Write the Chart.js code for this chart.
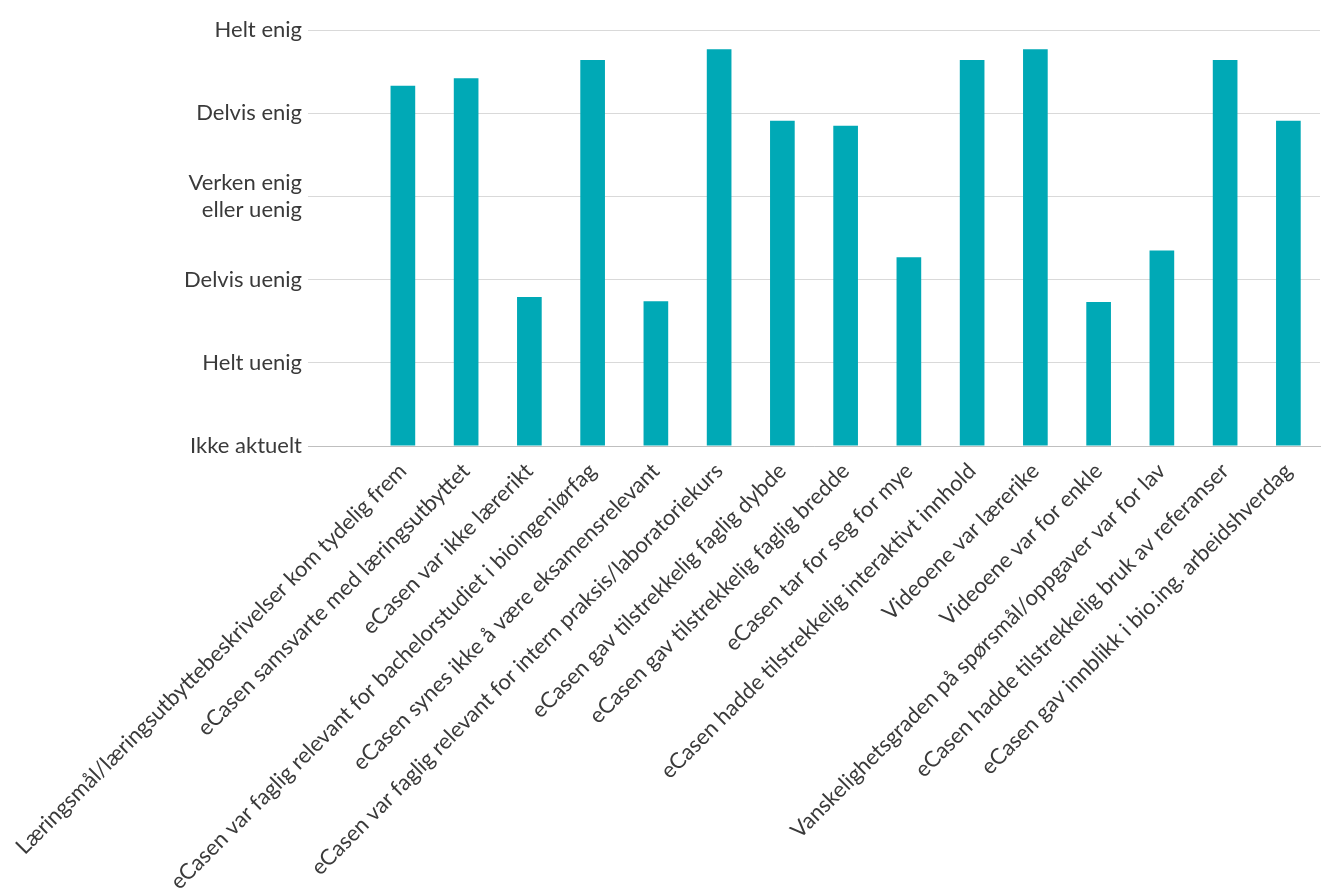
<!DOCTYPE html>
<html lang="no">
<head>
<meta charset="utf-8">
<title>eCasen – evaluering</title>
<script src="https://cdn.jsdelivr.net/npm/chart.js"></script>
<style>
    html, body { margin: 0; padding: 0; background: #fff; }
    #wrap { width: 1325px; height: 893px; position: relative; }
</style>
</head>
<body>
<div id="wrap"><canvas id="evalChart"></canvas></div>
<script>
// Svaralternativer, 0 = Ikke aktuelt ... 5 = Helt enig
const scaleLabels = [
    'Ikke aktuelt',
    'Helt uenig',
    'Delvis uenig',
    ['Verken enig', 'eller uenig'],
    'Delvis enig',
    'Helt enig'
];

const statements = [
    'Læringsmål/læringsutbyttebeskrivelser kom tydelig frem',
    'eCasen samsvarte med læringsutbyttet',
    'eCasen var ikke lærerikt',
    'eCasen var faglig relevant for bachelorstudiet i bioingeniørfag',
    'eCasen synes ikke å være eksamensrelevant',
    'eCasen var faglig relevant for intern praksis/laboratoriekurs',
    'eCasen gav tilstrekkelig faglig dybde',
    'eCasen gav tilstrekkelig faglig bredde',
    'eCasen tar for seg for mye',
    'eCasen hadde tilstrekkelig interaktivt innhold',
    'Videoene var lærerike',
    'Videoene var for enkle',
    'Vanskelighetsgraden på spørsmål/oppgaver var for lav',
    'eCasen hadde tilstrekkelig bruk av referanser',
    'eCasen gav innblikk i bio.ing. arbeidshverdag'
];

// Gjennomsnittlig svar per påstand
const meanScores = [4.33, 4.42, 1.79, 4.64, 1.74, 4.77, 3.91, 3.85, 2.27, 4.64, 4.77, 1.73, 2.35, 4.64, 3.91];

const barColor = '#00a9b6';
const textColor = '#3a3a3a';
const gridColor = '#d9d9d9';
const fontFamily = 'Lato, "Open Sans", sans-serif';

// one empty slot in front keeps the first bar clear of the axis labels
const labels = [''].concat(statements);
const values = [null].concat(meanScores);

const ctx = document.getElementById('evalChart').getContext('2d');
const chart = new Chart(ctx, {
    type: 'bar',
    data: {
        labels: labels,
        datasets: [{
            data: values,
            backgroundColor: barColor,
            borderWidth: 0,
            barPercentage: 0.39,
            categoryPercentage: 1
        }]
    },
    options: {
        responsive: true,
        maintainAspectRatio: false,
        animation: false,
        layout: {
            padding: { top: 30, right: 5, left: 0, bottom: 0 }
        },
        plugins: {
            legend: { display: false },
            tooltip: { enabled: false }
        },
        scales: {
            x: {
                grid: { display: false },
                border: { display: true, color: '#bfbfbf' },
                ticks: {
                    autoSkip: false,
                    maxRotation: 45,
                    minRotation: 45,
                    padding: 4,
                    color: textColor,
                    font: { family: fontFamily, size: 22 }
                },
                afterFit(scale) {
                    scale.height = 447;
                }
            },
            y: {
                min: 0,
                max: 5,
                border: { display: false },
                grid: { color: gridColor, drawTicks: false },
                ticks: {
                    stepSize: 1,
                    padding: 6,
                    color: textColor,
                    font: { family: fontFamily, size: 22, lineHeight: 1.25 },
                    callback: (value) => scaleLabels[value]
                },
                afterFit(scale) {
                    scale.width = 308;
                }
            }
        }
    }
});
</script>
</body>
</html>
